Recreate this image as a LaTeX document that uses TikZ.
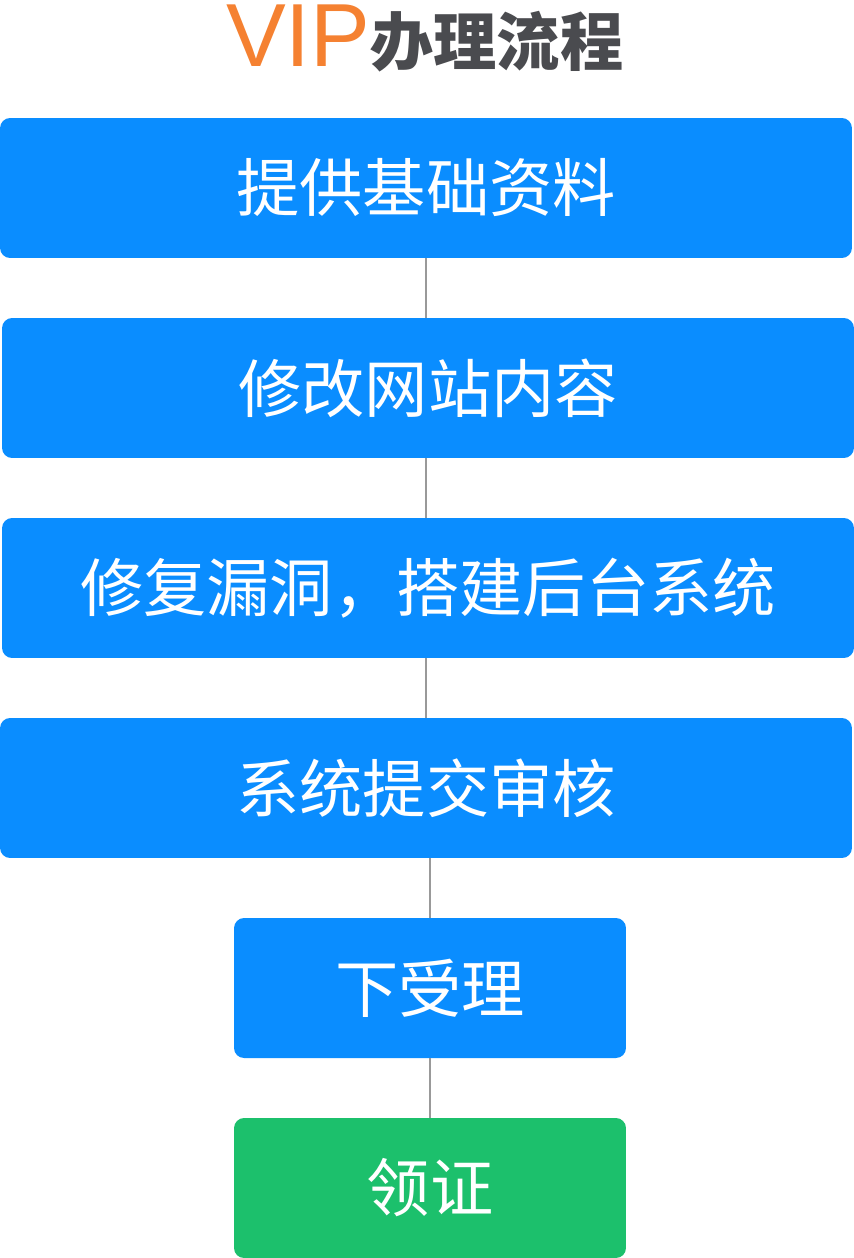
\documentclass[tikz,border=0pt]{standalone}
\usepackage{fontspec}
\usepackage{tikz}
\usetikzlibrary{calc}
\newfontfamily\cjk{Noto Sans CJK SC}
\newfontfamily\latinsans{Liberation Sans}
\definecolor{stepblue}{HTML}{0A8DFF}
\definecolor{stepgreen}{HTML}{1CC06C}
\definecolor{viporange}{HTML}{F58131}
\definecolor{titlegray}{HTML}{4A4B4F}
\definecolor{linkgray}{HTML}{999999}

\begin{document}
\begin{tikzpicture}[x=0.02cm, y=-0.02cm,
  block/.style = {rectangle, rounded corners=0.2cm, fill=stepblue, text=white, inner sep=0pt,
    minimum height=2.8cm, minimum width=17.04cm, font=\cjk\fontsize{36}{40}\selectfont},
  small/.style = {block, minimum width=7.84cm},
  link/.style = {draw=linkgray, line width=1.5pt}
]
\useasboundingbox[fill=white] (0,0) rectangle (854,1258);

\node (titlevip)[anchor=base east, inner sep=0pt, text height=1.2cm, text=viporange,
  font=\latinsans\fontsize{51}{54}\selectfont] at (371,66) {VIP};
\node (titlecn)[anchor=base west, inner sep=0pt, text height=1.0cm, text=titlegray,
  font=\cjk\bfseries\fontsize{36}{40}\selectfont] at (370,65) {办理流程};

\node (stepdata)[block] at (426,188) {提供基础资料};
\node (stepsite)[block] at (428,388) {修改网站内容};
\node (stepfix)[block] at (428,588) {修复漏洞，搭建后台系统};
\node (stepcheck)[block] at (426,788) {系统提交审核};
\node (stepaccept)[small] at (430,988) {下受理};
\node (stepcert)[small, fill=stepgreen] at (430,1188) {领证};

%\draw[link] (stepdata) -- (stepsite);

\draw[link] (stepdata.south) -- (stepsite.north -| stepdata.south);
\draw[link] (stepsite.south -| stepdata.south) -- (stepfix.north -| stepdata.south);
\draw[link] (stepfix.south -| stepdata.south) -- (stepcheck.north -| stepdata.south);
\draw[link] (stepcheck.south -| stepaccept.north) -- (stepaccept.north);
\draw[link] (stepaccept.south) -- (stepcert.north);

\end{tikzpicture}
\end{document}
